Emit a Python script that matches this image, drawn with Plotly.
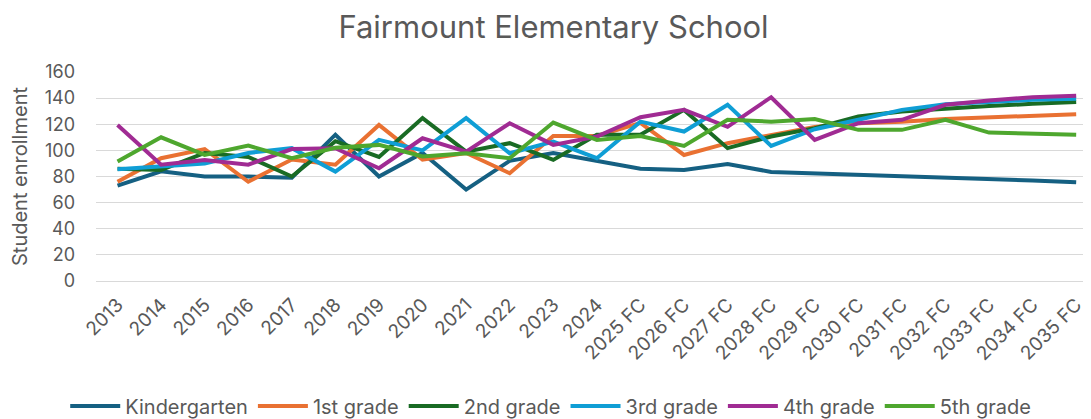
import plotly.graph_objects as go

years = ["2013", "2014", "2015", "2016", "2017", "2018", "2019", "2020", "2021", "2022",
         "2023", "2024", "2025 FC", "2026 FC", "2027 FC", "2028 FC", "2029 FC", "2030 FC",
         "2031 FC", "2032 FC", "2033 FC", "2034 FC", "2035 FC"]

kindergarten = [73, 84, 80, 80, 79, 112, 80, 98, 70, 92, 98, 92, 86, 85, 89.5, 83.5, 82.5,
                81.5, 80.5, 79.5, 78, 77, 75.6]
grade1 = [76, 94, 101, 76, 93, 89, 119.5, 93, 98, 82.5, 111, 111, 121, 96.5, 105.5, 112, 118,
          120.8, 122, 124, 125.4, 126.7, 127.7]
grade2 = [86, 85, 98, 95, 80, 107, 95, 124.7, 99, 105.5, 92.7, 112, 112, 131, 101.7, 110.6, 117,
          126, 129.7, 132, 134, 135.6, 137]
grade3 = [85.6, 87.6, 90, 98, 101.7, 83.8, 108, 100, 124.7, 97.8, 106.7, 94, 122, 114.4, 134.9,
          103.4, 116.2, 123.4, 131, 135.4, 137.4, 138.7, 139.5]
grade4 = [119.5, 89, 92.7, 89, 101, 101.7, 86.3, 109.3, 99, 120.8, 104.2, 110.6, 125.4, 131, 118,
          140.7, 108, 120.8, 123.4, 134.9, 138.2, 140.7, 141.8]
grade5 = [91.4, 110, 96.5, 103.7, 94, 102, 104.2, 95.3, 97.8, 94, 121.3, 108, 111, 103.4, 123.4,
          122, 124, 115.7, 115.7, 123.4, 113.6, 112.6, 111.9]

series = [
    ("Kindergarten", kindergarten, "#156082"),
    ("1st grade", grade1, "#E97132"),
    ("2nd grade", grade2, "#196B24"),
    ("3rd grade", grade3, "#0F9ED5"),
    ("4th grade", grade4, "#A02B93"),
    ("5th grade", grade5, "#4EA72E"),
]

FONT = "Inter"
GRAY = "#595959"

fig = go.Figure()
for name, vals, color in series:
    fig.add_trace(go.Scatter(x=years, y=vals, name=name, mode="lines",
                             line=dict(color=color, width=4)))

fig.update_layout(
    width=1091, height=419,
    paper_bgcolor="white", plot_bgcolor="white",
    margin=dict(l=88, r=8, t=64, b=146, autoexpand=False),
    font=dict(family=FONT, color=GRAY, size=16),
    title=dict(text="Fairmount Elementary School", x=0.5, xanchor="center",
               y=0.98, yanchor="top", yref="container", pad=dict(t=0),
               font=dict(family=FONT, size=31, color=GRAY)),
    legend=dict(orientation="h", x=0.457, xanchor="center", y=-0.598, yanchor="middle",
                font=dict(family=FONT, size=20, color=GRAY), traceorder="normal",
                itemwidth=50),
    xaxis=dict(type="category", range=[-0.494, 22.34], showgrid=False, showline=False,
               tickangle=-45, tickfont=dict(size=19, color=GRAY), ticks="",
               ticklabelstandoff=8),
    yaxis=dict(range=[0, 160], dtick=20, showgrid=True, gridcolor="#D9D9D9", gridwidth=1.3,
               zeroline=True, zerolinecolor="#D9D9D9", zerolinewidth=1.3,
               ticks="", ticklabelstandoff=20,
               tickfont=dict(size=18, color=GRAY),
               title=dict(text="Student enrollment", standoff=18,
                          font=dict(size=20, color=GRAY))),
)

fig.write_html("out.html")
